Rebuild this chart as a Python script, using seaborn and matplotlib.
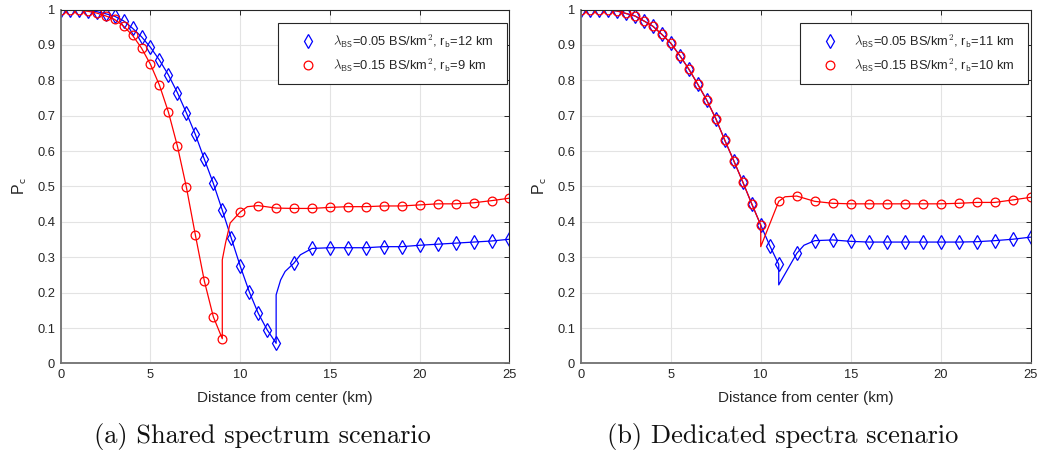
import numpy as np
import pandas as pd
import matplotlib
matplotlib.use("Agg")
import matplotlib.pyplot as plt
from matplotlib.lines import Line2D
from matplotlib.ticker import FuncFormatter
import seaborn as sns

# ---------------- data: (a) shared spectrum ----------------
a_blue_mx = [0, 0.5, 1, 1.5, 2, 2.5, 3, 3.5, 4, 4.5, 5, 5.5, 6, 6.5, 7, 7.5, 8, 8.5,
             9, 9.5, 10, 10.5, 11, 11.5, 12,
             13, 14, 15, 16, 17, 18, 19, 20, 21, 22, 23, 24, 25]
a_blue_my = [1.0, 1.0, 0.999, 0.997, 0.994, 0.988, 0.981, 0.968, 0.947, 0.923, 0.893,
             0.857, 0.815, 0.765, 0.708, 0.647, 0.577, 0.509,
             0.433, 0.354, 0.275, 0.203, 0.142, 0.095, 0.057,
             0.284, 0.325, 0.327, 0.327, 0.327, 0.330, 0.330, 0.334, 0.337, 0.340,
             0.343, 0.346, 0.351]
# curve after the cell edge (r_b = 12 km)
a_blue_tail_x = [12, 12.25, 12.5, 13, 13.35, 14]
a_blue_tail_y = [0.194, 0.236, 0.260, 0.284, 0.307, 0.325]

a_red_mx = [0, 0.5, 1, 1.5, 2, 2.5, 3, 3.5, 4, 4.5, 5, 5.5, 6, 6.5, 7, 7.5, 8, 8.5, 9,
            10, 11, 12, 13, 14, 15, 16, 17, 18, 19, 20, 21, 22, 23, 24, 25]
a_red_my = [1.0, 1.0, 0.998, 0.995, 0.990, 0.982, 0.972, 0.953, 0.927, 0.891, 0.845,
            0.786, 0.710, 0.614, 0.498, 0.363, 0.233, 0.132, 0.070,
            0.428, 0.446, 0.439, 0.438, 0.438, 0.441, 0.443, 0.443, 0.445, 0.445,
            0.448, 0.451, 0.451, 0.454, 0.460, 0.467]
a_red_tail_x = [9, 9.18, 9.44, 10, 10.4, 11]
a_red_tail_y = [0.293, 0.340, 0.397, 0.428, 0.443, 0.446]

# ---------------- data: (b) dedicated spectra ----------------
b_common_x = [0, 0.5, 1, 1.5, 2, 2.5, 3, 3.5, 4, 4.5, 5, 5.5, 6, 6.5, 7, 7.5, 8, 8.5,
              9, 9.5, 10]
b_common_y = [1.0, 1.0, 0.999, 0.998, 0.996, 0.989, 0.982, 0.968, 0.953, 0.930, 0.905,
              0.870, 0.832, 0.789, 0.744, 0.692, 0.631, 0.573, 0.513, 0.451, 0.391]

b_blue_mx = b_common_x + [10.5, 11, 12, 13, 14, 15, 16, 17, 18, 19, 20, 21, 22, 23, 24, 25]
b_blue_my = b_common_y + [0.333, 0.280, 0.311, 0.347, 0.349, 0.345, 0.343, 0.343, 0.343,
                          0.343, 0.343, 0.343, 0.344, 0.347, 0.351, 0.357]
b_blue_tail_x = [11, 12, 12.4, 13]
b_blue_tail_y = [0.222, 0.311, 0.334, 0.347]

b_red_mx = b_common_x + [11, 12, 13, 14, 15, 16, 17, 18, 19, 20, 21, 22, 23, 24, 25]
b_red_my = b_common_y + [0.458, 0.473, 0.458, 0.4525, 0.451, 0.451, 0.451, 0.451, 0.451,
                         0.451, 0.4525, 0.455, 0.455, 0.462, 0.4695]
b_red_tail_x = [10, 11, 11.35, 12]
b_red_tail_y = [0.330, 0.458, 0.471, 0.473]

x_ticks = [0, 5, 10, 15, 20, 25]
y_ticks = [0, 0.1, 0.2, 0.3, 0.4, 0.5, 0.6, 0.7, 0.8, 0.9, 1.0]

labels_a = [r"$\lambda_{\mathsf{BS}}$=0.05 BS/km$^{\mathsf{2}}$, r$_{\mathsf{b}}$=12 km  ",
            r"$\lambda_{\mathsf{BS}}$=0.15 BS/km$^{\mathsf{2}}$, r$_{\mathsf{b}}$=9 km  "]
labels_b = [r"$\lambda_{\mathsf{BS}}$=0.05 BS/km$^{\mathsf{2}}$, r$_{\mathsf{b}}$=11 km  ",
            r"$\lambda_{\mathsf{BS}}$=0.15 BS/km$^{\mathsf{2}}$, r$_{\mathsf{b}}$=10 km  "]
captions = ["(a) Shared spectrum scenario", "(b) Dedicated spectra scenario"]

BLUE = "#0000ff"
RED = "#ff0000"

sns.set_theme(style="white")
plt.rcParams["font.family"] = ["Liberation Sans", "DejaVu Sans"]
plt.rcParams["mathtext.fontset"] = "cm"


def line_series(mx, my, tail_x, tail_y):
    """Join markers before the cell edge with the post-edge curve."""
    edge = tail_x[0]
    head = [(x, y) for x, y in zip(mx, my) if x <= edge]
    rest = [(x, y) for x, y in zip(mx, my) if x > tail_x[-1]]
    pts = head + list(zip(tail_x, tail_y)) + rest
    return pd.DataFrame(pts, columns=["x", "y"])


def draw_panel(ax, series, labels):
    handles = []
    for mx, my, tx, ty, color, marker, ms in series:
        df_line = line_series(mx, my, tx, ty)
        sns.lineplot(data=df_line, x="x", y="y", ax=ax, color=color, lw=0.9,
                     sort=False, estimator=None)
        df_mk = pd.DataFrame({"x": mx, "y": my})
        sns.lineplot(data=df_mk, x="x", y="y", ax=ax, color=color, linestyle="",
                     marker=marker, markersize=ms, markerfacecolor="none",
                     markeredgecolor=color, markeredgewidth=0.9,
                     sort=False, estimator=None)
        handles.append(Line2D([], [], linestyle="", marker=marker, markersize=ms,
                              markerfacecolor="none", markeredgecolor=color,
                              markeredgewidth=0.9))
    ax.set_xlim(0, 25)
    ax.set_ylim(0, 1)
    ax.set_xticks(x_ticks)
    ax.set_yticks(y_ticks)
    ax.yaxis.set_major_formatter(FuncFormatter(lambda v, p: f"{v:g}"))
    ax.grid(True, color="#e3e3e3", lw=0.8)
    ax.set_axisbelow(True)
    ax.tick_params(direction="in", length=3.5, width=0.7, colors="#262626",
                   labelsize=9.3, top=True, right=True, pad=4)
    for side in ["left", "bottom"]:
        ax.spines[side].set_color("#707070")
        ax.spines[side].set_linewidth(1.3)
    for side in ["top", "right"]:
        ax.spines[side].set_color("#262626")
        ax.spines[side].set_linewidth(0.8)
    ax.set_xlabel("Distance from center (km)", fontsize=11, color="#262626", labelpad=7)
    ax.set_ylabel(r"P$_{\mathsf{c}}$", fontsize=11.5, color="#262626", labelpad=6)
    leg = ax.legend(handles, labels, loc="upper right", bbox_to_anchor=(0.995, 0.962),
                    fontsize=9.3, frameon=True, fancybox=False, framealpha=1,
                    edgecolor="#262626", borderpad=0.75, labelspacing=0.5,
                    handletextpad=0.3, handlelength=3.15, borderaxespad=0)
    leg.get_frame().set_linewidth(0.8)


fig = plt.figure(figsize=(10.4, 4.59), dpi=100)
ax1 = fig.add_axes([0.0584, 0.2081, 0.4315, 0.7712])
ax2 = fig.add_axes([0.5584, 0.2081, 0.4327, 0.7712])

draw_panel(ax1, [
    (a_blue_mx, a_blue_my, a_blue_tail_x, a_blue_tail_y, BLUE, "d", 7.5),
    (a_red_mx, a_red_my, a_red_tail_x, a_red_tail_y, RED, "o", 6.3),
], labels_a)
draw_panel(ax2, [
    (b_blue_mx, b_blue_my, b_blue_tail_x, b_blue_tail_y, BLUE, "d", 7.5),
    (b_red_mx, b_red_my, b_red_tail_x, b_red_tail_y, RED, "o", 6.3),
], labels_b)

fig.text(0.252, 0.048, captions[0], family="cmr10", fontsize=19, ha="center",
         va="center", color="#111111")
fig.text(0.753, 0.048, captions[1], family="cmr10", fontsize=19, ha="center",
         va="center", color="#111111")

fig.savefig("out.png", dpi=100, facecolor="white")
